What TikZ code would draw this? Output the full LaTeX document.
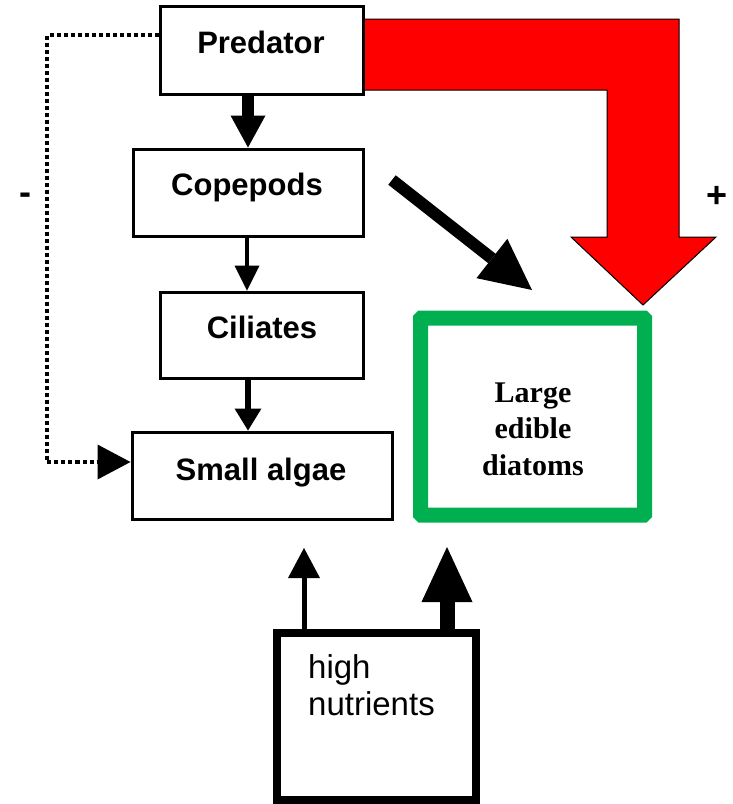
\documentclass[tikz,border=0pt]{standalone}
\usepackage{fontspec}
\setmainfont{Liberation Sans}
\newfontfamily\diatomfont{Liberation Serif}
\usetikzlibrary{arrows.meta}
\definecolor{boxgreen}{RGB}{0,176,80}
\definecolor{arrowred}{RGB}{255,0,0}
\begin{document}
\begin{tikzpicture}[x=1pt,y=-1pt,
  box/.style={draw=black, line width=3pt, fill=white, inner sep=0pt},
  lbl/.style={font=\bfseries\fontsize{31}{36}\selectfont, anchor=base, inner sep=0pt},
  sign/.style={font=\bfseries\fontsize{36}{40}\selectfont, inner sep=0pt}
]
\useasboundingbox (0,0) rectangle (732,804);
% red bent arrow (drawn first, box overlaps its start)
\coordinate (redtip) at (643,305);
\draw[fill=arrowred, draw=black, line width=1pt, line join=miter]
  (363,19) -- (679,19) -- (679,237) -- (716,237) -- (redtip) -- (571,237)
  -- (607,237) -- (607,90) -- (363,90) -- cycle;
% boxes
\node[box, minimum width=203pt, minimum height=88pt] (pred) at (261.5,50) {};
\node[lbl] (predt) at (261,53) {Predator};
\node[box, minimum width=230pt, minimum height=87pt] (cop) at (248,192.5) {};
\node[lbl] (copt) at (247,195) {Copepods};
\node[box, minimum width=203pt, minimum height=86pt] (cil) at (261.5,335) {};
\node[lbl] (cilt) at (262,338) {Ciliates};
\node[box, minimum width=260pt, minimum height=87pt] (alg) at (262,475.5) {};
\node[lbl] (algt) at (261,480) {Small algae};
\node[draw=boxgreen, line width=15pt, rounded corners=1pt, fill=white,
      minimum width=224pt, minimum height=197pt, inner sep=0pt] (diat) at (532.5,416.5) {};
\node[font=\diatomfont\bfseries\fontsize{30}{36.5}\selectfont, align=center,
      anchor=base, inner sep=0pt] (diatt) at (533,475) {Large\\edible\\diatoms};
\node[draw=black, line width=8pt, fill=white, inner sep=0pt,
      minimum width=199pt, minimum height=167pt] (nut) at (376.5,716.5) {};
\node[font=\fontsize{33}{37}\selectfont, align=left, anchor=base west,
      inner sep=0pt] (nutt) at (308,715) {high\\nutrients};
% signs
\node[sign] (minus) at (25,199) {-};
\node[sign] (plus) at (717,197) {+};
% food chain arrows
\draw[line width=12pt, -{Triangle[length=32pt,width=35pt,line width=0pt]}]
  (pred.south -| cop.north) -- (cop.north);
\draw[line width=4pt, -{Triangle[length=25pt,width=25pt,line width=0pt]}]
  ([xshift=-1pt]cop.south) -- ([xshift=-1pt]cop.south |- cil.north);
\draw[line width=6pt, -{Triangle[length=22pt,width=27pt,line width=0pt]}]
  (cil.south -| cop.south) -- (cop.south |- alg.north);
% dotted feedback
\coordinate (d0) at (160,35);
\coordinate (d1) at (47,35);
\coordinate (d2) at (47,462);
\draw[line width=4pt, dash pattern=on 4pt off 3pt,
      -{Triangle[length=33pt,width=35pt,line width=0pt]}]
  (pred.west |- d0) -- (d1) -- (d2) -- (alg.west |- d2);
% diagonal arrow
\coordinate (g0) at (392,180);
\coordinate (g1) at (532,290);
\draw[line width=12pt, -{Triangle[length=51pt,width=50pt,line width=0pt]}] (g0) -- (g1);
% nutrient arrows
\coordinate (n1) at (304,548);
\coordinate (n2) at (447,547);
\draw[line width=5pt, -{Triangle[length=30pt,width=32pt,line width=0pt]}]
  (nut.north -| n1) -- (n1);
\draw[line width=15pt, -{Triangle[length=55pt,width=51pt,line width=0pt]}]
  (nut.north -| n2) -- (n2);
\end{tikzpicture}
\end{document}
